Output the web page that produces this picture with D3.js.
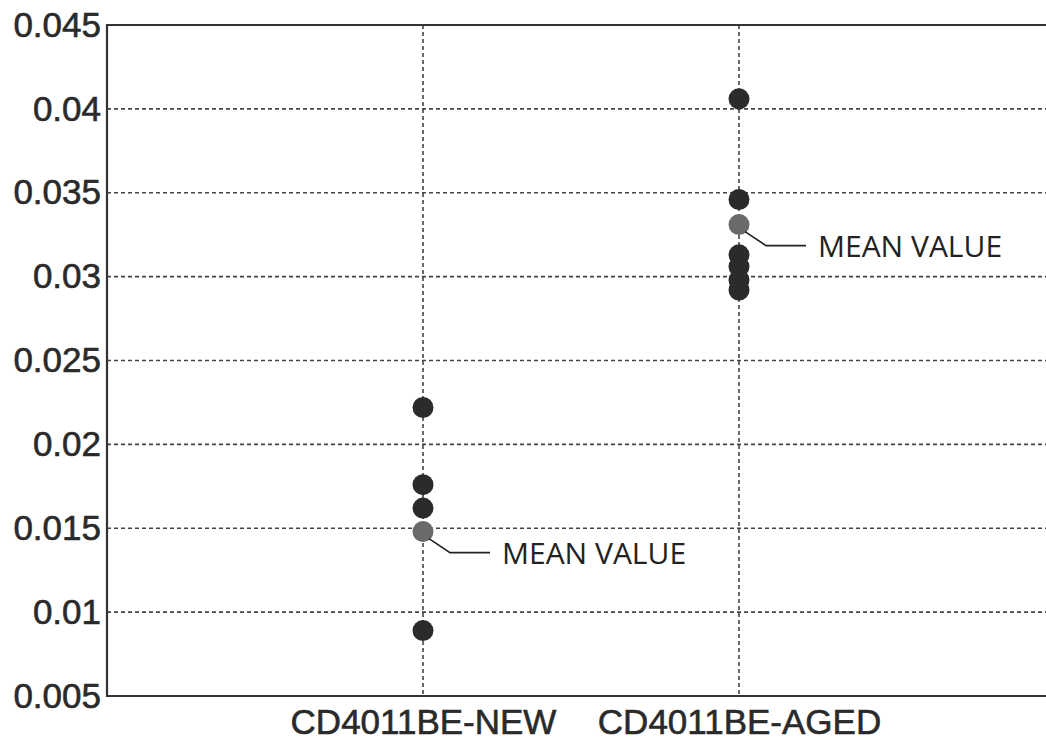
<!DOCTYPE html>
<html>
<head>
<meta charset="utf-8">
<script src="https://cdn.jsdelivr.net/npm/d3@7"></script>
<style>
  body { margin: 0; background: #fff; }
  svg { display: block; }
</style>
</head>
<body>
<div id="chart"></div>
<script>
// data
var categories = ["CD4011BE-NEW", "CD4011BE-AGED"];
var newValues = [0.0222, 0.0176, 0.0162, 0.0089];
var agedValues = [0.0406, 0.0346, 0.0313, 0.0306, 0.0298, 0.0292];
var meanValues = [0.0148, 0.0331];
var yTicks = [0.005, 0.01, 0.015, 0.02, 0.025, 0.03, 0.035, 0.04, 0.045];
var yTickLabels = ["0.005", "0.01", "0.015", "0.02", "0.025", "0.03", "0.035", "0.04", "0.045"];
var meanLabel = "MEAN VALUE";

var width = 1046, height = 741;
var margin = {top: 25, right: -9, bottom: 45, left: 107};

var svg = d3.select("#chart")
            .append("svg")
              .attr("width", width)
              .attr("height", height);

var x = d3.scalePoint()
    .domain(categories)
    .range([margin.left, width - margin.right])
    .padding(1);

var y = d3.scaleLinear()
    .domain([0.005, 0.045])
    .range([height - margin.bottom, margin.top]);

var x0 = margin.left, x1 = width - margin.right;
var y0 = y(0.005), y1 = y(0.045);

// grid
svg.append("g")
    .selectAll("line")
    .data(yTicks.slice(1, -1))
    .enter().append("line")
    .attr("x1", x0).attr("x2", x1)
    .attr("y1", d => y(d)).attr("y2", d => y(d))
    .style("stroke", "#444")
    .style("stroke-width", 1.6)
    .style("stroke-dasharray", "4,3");

svg.append("g")
    .selectAll("line")
    .data(categories)
    .enter().append("line")
    .attr("x1", d => x(d)).attr("x2", d => x(d))
    .attr("y1", y1).attr("y2", y0)
    .style("stroke", "#444")
    .style("stroke-width", 1.6)
    .style("stroke-dasharray", "4,3");

// frame
svg.append("path")
    .attr("d", "M" + x1 + "," + y1 + "H" + x0 + "V" + y0 + "H" + x1)
    .style("fill", "none")
    .style("stroke", "#333")
    .style("stroke-width", 2.2);

// axes
var yAxis = svg.append("g")
    .attr("transform", "translate(" + x0 + ",0)")
    .call(d3.axisLeft(y).tickValues(yTicks).tickSize(0).tickPadding(6)
        .tickFormat((d, i) => yTickLabels[i]));
yAxis.select(".domain").remove();
yAxis.selectAll("text")
    .style("font-family", "'Liberation Sans', Arial, sans-serif")
    .style("font-size", "35px")
    .style("fill", "#2a2a2a")
    .style("stroke", "#2a2a2a")
    .style("stroke-width", 0.6);

var xAxis = svg.append("g")
    .attr("transform", "translate(0," + y0 + ")")
    .call(d3.axisBottom(x).tickSize(0).tickPadding(13));
xAxis.select(".domain").remove();
xAxis.selectAll("text")
    .style("font-family", "'Liberation Sans', Arial, sans-serif")
    .style("font-size", "35px")
    .style("fill", "#2a2a2a")
    .style("stroke", "#2a2a2a")
    .style("stroke-width", 0.6);

// points
var pts = [];
newValues.forEach(v => pts.push({c: categories[0], v: v}));
agedValues.forEach(v => pts.push({c: categories[1], v: v}));

svg.append("g")
    .selectAll("circle")
    .data(pts)
    .enter().append("circle")
    .attr("cx", d => x(d.c))
    .attr("cy", d => y(d.v))
    .attr("r", 10.5)
    .style("fill", "#2b2b2b");

var means = categories.map((c, i) => ({c: c, v: meanValues[i]}));

svg.append("g")
    .selectAll("circle")
    .data(means)
    .enter().append("circle")
    .attr("cx", d => x(d.c))
    .attr("cy", d => y(d.v))
    .attr("r", 10.5)
    .style("fill", "#6a6a6a");

// mean value callouts
var ann = svg.append("g")
    .selectAll("g")
    .data(means)
    .enter().append("g")
    .attr("transform", d => "translate(" + x(d.c) + "," + y(d.v) + ")");

ann.append("path")
    .attr("d", "M6,7L27,21H67")
    .style("fill", "none")
    .style("stroke", "#222")
    .style("stroke-width", 1.6);

ann.append("text")
    .attr("x", 79)
    .attr("y", 32)
    .style("font-family", "'Open Sans', sans-serif")
    .style("font-size", "30px")
    .style("fill", "#222")
    .text(meanLabel);
</script>
</body>
</html>
